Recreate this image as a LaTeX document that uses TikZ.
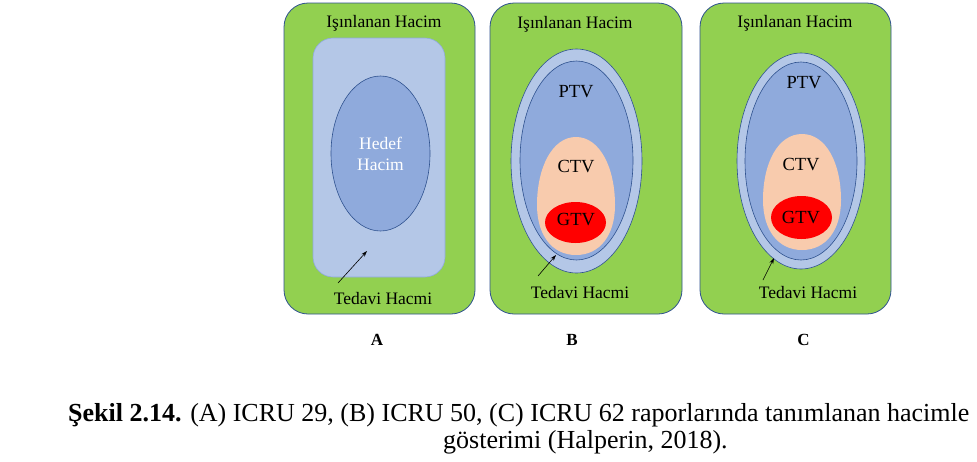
\documentclass[tikz,border=0pt]{standalone}
\usepackage{fontspec}
\setmainfont{Liberation Serif}
\usetikzlibrary{arrows.meta}
\definecolor{grn}{HTML}{92D050}
\definecolor{ltblue}{HTML}{B4C7E7}
\definecolor{mdblue}{HTML}{8FAADC}
\definecolor{peach}{HTML}{F8CBAD}
\definecolor{gtvred}{HTML}{FF0000}
\definecolor{edge}{HTML}{2F528F}
\tikzset{
  outerbox/.style={fill=grn,draw=edge,line width=0.8pt,rounded corners=24pt},
  lbl/.style={font=\fontsize{17.5}{20}\selectfont,inner sep=0pt},
  panel/.style={font=\bfseries\fontsize{17}{19}\selectfont,inner sep=0pt},
  captxt/.style={font=\fontsize{26}{28}\selectfont,inner sep=0pt,anchor=base west},
  ptr/.style={-{Stealth[length=6pt,width=4pt]},line width=0.6pt,black}
}
\begin{document}
\begin{tikzpicture}[x=1pt,y=-1pt]
\useasboundingbox (0,0) rectangle (977,461);
\fill[white] (0,0) rectangle (977,461);
% ---------- Panel A ----------
\draw[outerbox] (284,3) rectangle (475,314);
\draw[fill=ltblue,draw=mdblue,line width=0.6pt,rounded corners=20pt] (313,38) rectangle (445,277);
\draw[fill=mdblue,draw=edge,line width=0.6pt] (380.5,153.5) ellipse [x radius=49.5,y radius=77.5];
\node[lbl] (aIs) at (384,23) {Işınlanan Hacim};
\node[lbl,text=white,align=center,font=\fontsize{17.5}{21}\selectfont] (aHedef) at (380.5,154) {Hedef\\Hacim};
\node[lbl] (aTed) at (383,299) {Tedavi Hacmi};
\coordinate (aS) at (338,283);
\coordinate (aE) at (367,251);
\draw[ptr] (aS) -- (aE);
\node[panel] (pA) at (377,340) {A};
% ---------- Panel B ----------
\draw[outerbox] (490,3) rectangle (682,314);
\draw[fill=ltblue,draw=edge,line width=0.6pt] (576.5,161) ellipse [x radius=65.5,y radius=112];
\draw[fill=mdblue,draw=edge,line width=0.6pt] (576.5,160.5) ellipse [x radius=56.5,y radius=99.5];
\fill[peach] (576,137) .. controls (600,137) and (615,168) .. (615,205)
  .. controls (615,235) and (600,255) .. (576,255)
  .. controls (552,255) and (537,235) .. (537,205)
  .. controls (537,168) and (552,137) .. (576,137) -- cycle;
\fill[gtvred] (575.5,222.5) ellipse [x radius=30.5,y radius=20.5];
\node[lbl] (bIs) at (575,24) {Işınlanan Hacim};
\node[lbl,font=\fontsize{18.5}{20}\selectfont] (bPTV) at (576,92) {PTV};
\node[lbl,font=\fontsize{18.5}{20}\selectfont] (bCTV) at (576,167) {CTV};
\node[lbl,font=\fontsize{18.5}{20}\selectfont] (bGTV) at (576,220) {GTV};
\node[lbl] (bTed) at (580,293) {Tedavi Hacmi};
\coordinate (bS) at (538,276);
\coordinate (bE) at (556,255);
\draw[ptr] (bS) -- (bE);
\node[panel] (pB) at (572,340) {B};
% ---------- Panel C ----------
\draw[outerbox] (700,3) rectangle (891,314);
\draw[fill=ltblue,draw=edge,line width=0.6pt] (801,161) ellipse [x radius=64,y radius=108];
\draw[fill=mdblue,draw=edge,line width=0.6pt] (801,161) ellipse [x radius=56,y radius=99];
\fill[peach] (802,134) .. controls (826,134) and (841,163) .. (841,200)
  .. controls (841,230) and (826,250) .. (802,250)
  .. controls (778,250) and (763,230) .. (763,200)
  .. controls (763,163) and (778,134) .. (802,134) -- cycle;
\fill[gtvred] (801.5,217.5) ellipse [x radius=30.5,y radius=21.5];
\node[lbl] (cIs) at (795,23) {Işınlanan Hacim};
\node[lbl,font=\fontsize{18.5}{20}\selectfont] (cPTV) at (804,83) {PTV};
\node[lbl,font=\fontsize{18.5}{20}\selectfont] (cCTV) at (801,165) {CTV};
\node[lbl,font=\fontsize{18.5}{20}\selectfont] (cGTV) at (801,218) {GTV};
\node[lbl] (cTed) at (808,293) {Tedavi Hacmi};
\coordinate (cS) at (763,280);
\coordinate (cE) at (774,258);
\draw[ptr] (cS) -- (cE);
\node[panel] (pC) at (803.5,340) {C};
% ---------- Caption ----------
\node[captxt] (cap1) at (68,421) {\textbf{Şekil 2.14.} (A) ICRU 29, (B) ICRU 50, (C) ICRU 62 raporlarında tanımlanan hacimle};
\node[captxt] (cap2) at (443,448) {gösterimi (Halperin, 2018).};
\end{tikzpicture}
\end{document}
